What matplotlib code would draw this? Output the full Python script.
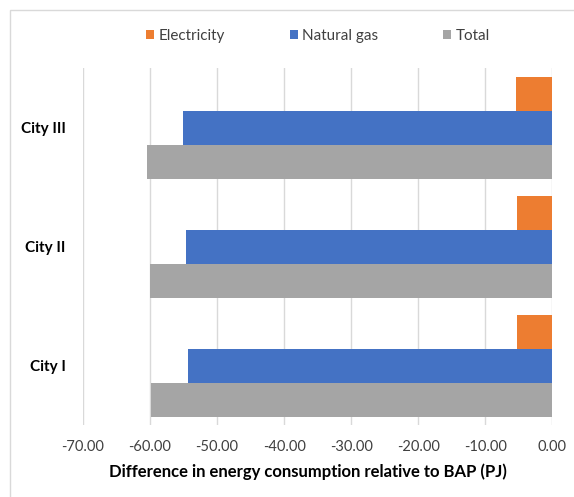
import matplotlib
matplotlib.use("Agg")
import matplotlib.pyplot as plt
from matplotlib.patches import Rectangle
import numpy as np

plt.rcParams['font.family'] = ['Lato', 'DejaVu Sans']

cities = ["City I", "City II", "City III"]
series_names = ["Electricity", "Natural gas", "Total"]
electricity = [-5.3, -5.3, -5.4]
natural_gas = [-54.4, -54.6, -55.1]
total = [-59.85, -60.0, -60.5]
x_ticks = [-70, -60, -50, -40, -30, -20, -10, 0]
colors = ["#ED7D31", "#4472C4", "#A5A5A5"]

W, H = 574, 497
fig = plt.figure(figsize=(W / 100, H / 100), dpi=100)

# chart frame
fig.patches.append(Rectangle((10 / W, -0.01), 1.0, (H - 10) / H + 0.01,
                             transform=fig.transFigure, fill=False,
                             edgecolor="#d9d9d9", linewidth=1.0))

left, right = 83 / W, 552.3 / W
top, bottom = (H - 68.2) / H, (H - 425.2) / H
ax = fig.add_axes([left, bottom, right - left, top - bottom])

bar_h = 1 / 3.5
y = np.arange(len(cities))
handles = []
for vals, off, col, name in zip([electricity, natural_gas, total],
                                [bar_h, 0, -bar_h], colors, series_names):
    h = ax.barh(y + off, vals, height=bar_h, color=col, label=name, zorder=3)
    handles.append(h)

ax.set_xlim(-70, 0)
ax.set_ylim(-0.5, len(cities) - 0.5)
ax.set_xticks(x_ticks)
ax.set_xticklabels([f"{v:.2f}" for v in x_ticks], fontsize=10.5, color="#404040")
ax.set_yticks(y)
ax.set_yticklabels(cities, fontsize=11, fontweight="bold", color="black")
ax.tick_params(axis="both", length=0)
ax.tick_params(axis="x", pad=11)
ax.tick_params(axis="y", pad=12.5)
ax.grid(axis="x", color="#d9d9d9", linewidth=1.0, zorder=0)
for s in ax.spines.values():
    s.set_visible(False)

fig.text(308 / W, 1 - 472 / H, "Difference in energy consumption relative to BAP (PJ)",
         ha="center", va="center", fontsize=12, fontweight="bold", color="black")

fig.legend(handles=handles, labels=series_names, loc="center",
           bbox_to_anchor=(318 / W, 1 - 36 / H), ncol=3, frameon=False,
           fontsize=11, handlelength=0.55, handleheight=0.55,
           handletextpad=0.3, columnspacing=4.2, labelcolor="#404040")

fig.savefig("out.png", dpi=100)
